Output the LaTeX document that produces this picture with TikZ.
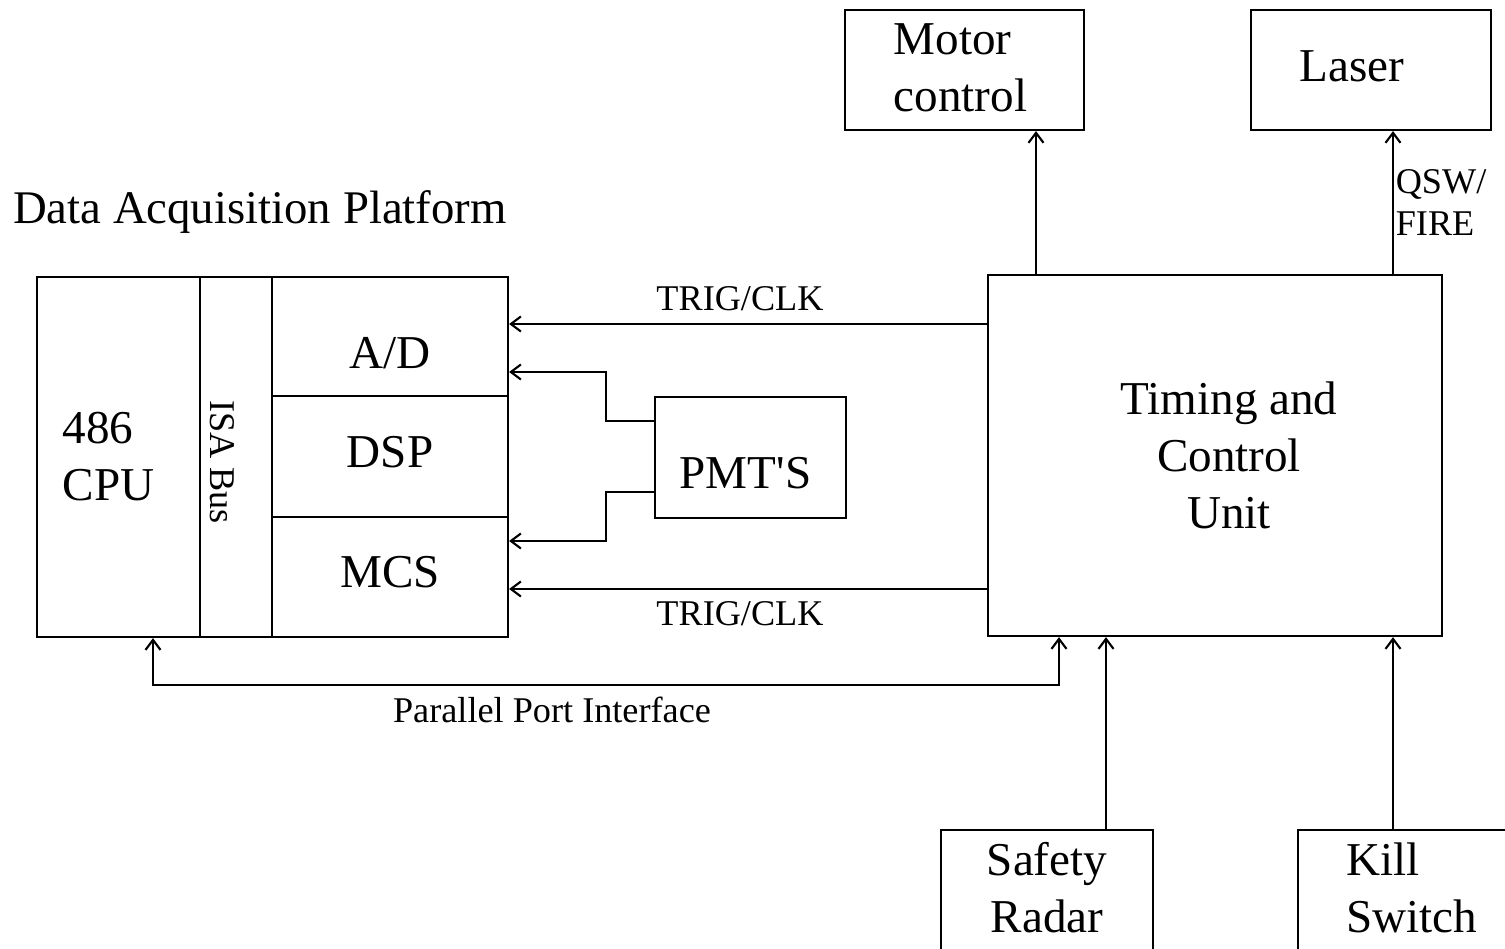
\documentclass[tikz,border=0pt]{standalone}
\usepackage{fontspec}
\setmainfont{Liberation Serif}
\usetikzlibrary{arrows.meta}
\begin{document}
\begin{tikzpicture}[
    x=0.01cm, y=-0.01cm,
    line width=0.6pt,
    big/.style={font=\fontsize{13.4}{16.2}\selectfont, align=center},
    small/.style={font=\fontsize{10.3}{12}\selectfont, align=left},
    blk/.style={draw, big, inner sep=0pt},
    arr/.style={-{Straight Barb[length=1mm,width=1.5mm]}},
    both/.style={{Straight Barb[length=1mm,width=1.5mm]}-{Straight Barb[length=1mm,width=1.5mm]}}
]
    \clip (0,0) rectangle (1505,949);
    \fill[white] (0,0) rectangle (1505,949);

    % Data acquisition platform
    \node[big, anchor=west, inner sep=0pt, font=\fontsize{13.3}{16}\selectfont] (daqtitle) at (12,212) {Data Acquisition Platform};
    \node[blk, minimum width=1.63cm, minimum height=3.60cm] (cpu) at (118.5,457) {};
    \node[big, align=left, anchor=west] (cputext) at (50,457) {486\\CPU};
    \node[blk, minimum width=0.72cm, minimum height=3.60cm] (isa) at (236,457) {};
    \node[small, rotate=-90] (isatext) at (222,462) {ISA Bus};
    \node[blk, minimum width=2.36cm, minimum height=1.19cm,
          label={[big, yshift=-0.17cm]center:A/D}] (ad) at (390,336.5) {};
    \node[blk, minimum width=2.36cm, minimum height=1.21cm,
          label={[big, yshift=0.04cm]center:DSP}] (dsp) at (390,456.5) {};
    \node[blk, minimum width=2.36cm, minimum height=1.20cm,
          label={[big, yshift=0.05cm]center:MCS}] (mcs) at (390,577) {};

    % PMTs
    \node[blk, minimum width=1.91cm, minimum height=1.21cm,
          label={[big, xshift=-0.05cm, yshift=-0.16cm]center:PMT\textquotesingle S}] (pmt) at (750.5,457.5) {};

    % Timing and control
    \node[blk, minimum width=4.54cm, minimum height=3.61cm] (tcu) at (1215,455.5) {};
    \node[big] (tcutext) at (1229,455) {Timing and\\Control\\Unit};
    \node[blk, minimum width=2.39cm, minimum height=1.20cm,
          label={[big, align=left, xshift=-0.04cm, yshift=0.02cm]center:Motor\\control}] (motor) at (964.5,70) {};
    \node[blk, minimum width=2.40cm, minimum height=1.20cm,
          label={[big, xshift=-0.19cm, yshift=0.04cm]center:Laser}] (laser) at (1371,70) {};
    \node[blk, minimum width=2.12cm, minimum height=1.70cm,
          label={[big, yshift=0.27cm]center:Safety\\Radar}] (radar) at (1047,915) {};
    \node[blk, minimum width=2.62cm, minimum height=1.70cm,
          label={[big, align=left, xshift=-0.17cm, yshift=0.27cm]center:Kill\\Switch}] (kill) at (1429,915) {};

    % Signals into the platform
    \draw[arr] (tcu.west |- 0,324) -- node[small, above, xshift=-0.08cm] (trigtop) {TRIG/CLK} (ad.east |- 0,324);
    \draw[arr] (tcu.west |- 0,589) -- node[small, below, xshift=-0.08cm] (trigbot) {TRIG/CLK} (mcs.east |- 0,589);
    \draw[arr] (pmt.west |- 0,421) -- (606,421) -- (606,372) -- (ad.east |- 0,372);
    \draw[arr] (pmt.west |- 0,492) -- (606,492) -- (606,541) -- (mcs.east |- 0,541);
    \draw[both] (153,0 |- cpu.south) -- (153,685) -- (1059,685) -- (1059,0 |- tcu.south);
    \node[small] (pptext) at (552,710) {Parallel Port Interface};

    % Outputs and inputs of the timing unit
    \draw[arr] (1036,0 |- tcu.north) -- (1036,0 |- motor.south);
    \draw[arr] (1393,0 |- tcu.north) -- node[small, right, inner sep=0.5pt] (qsw) {QSW/\\FIRE} (1393,0 |- laser.south);
    \draw[arr] (1106,0 |- radar.north) -- (1106,0 |- tcu.south);
    \draw[arr] (1393,0 |- kill.north) -- (1393,0 |- tcu.south);
\end{tikzpicture}
\end{document}
